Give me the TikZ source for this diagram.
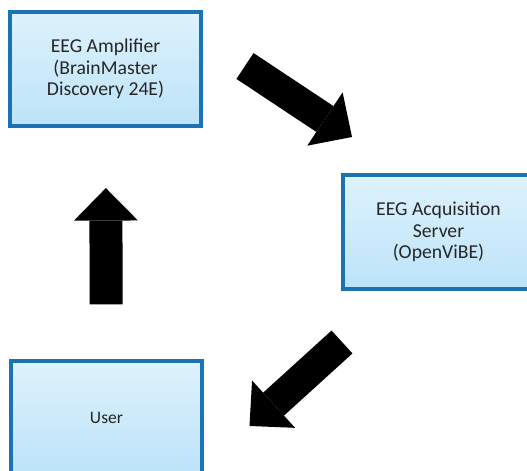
\documentclass[tikz,border=0pt]{standalone}
\usepackage{fontspec}
\setmainfont{Carlito}
\usetikzlibrary{arrows.meta}
\definecolor{boxedge}{RGB}{28,115,180}
\definecolor{boxtop}{RGB}{222,242,252}
\definecolor{boxbottom}{RGB}{188,227,249}

\begin{document}
\begin{tikzpicture}[font=\fontsize{11.2}{12.2}\selectfont,
  unit/.style={draw=boxedge, line width=1.8pt, top color=boxtop, bottom color=boxbottom,
    minimum width=3.82cm, minimum height=2.28cm, align=center, text=black!85},
  fatarrow/.style={line width=0.62cm, -{Triangle[length=0.65cm, width=1.28cm, line width=0pt]}}]
  \clip (0,0) rectangle (10.54,9.42);
  \node[unit] (amp) at (2.11,8.04) {EEG Amplifier\\(BrainMaster\\Discovery 24E)};
  \node[unit] (server) at (8.77,4.78) {EEG Acquisition\\Server\\(OpenViBE)};
  \node[unit, font=\fontsize{10}{12}\selectfont] (user) at (2.13,1.06) {User};
  \coordinate (s1) at (4.90,8.10); \coordinate (e1) at (7.04,6.68);
  \coordinate (s3) at (6.84,2.58); \coordinate (e3) at (4.99,0.90);
  \draw[fatarrow] (s1) -- (e1);
  \draw[fatarrow] (s3) -- (e3);
  \draw[fatarrow, line width=0.66cm, shorten <=1.1cm, shorten >=1.21cm] (user) -- (amp);
\end{tikzpicture}
\end{document}
